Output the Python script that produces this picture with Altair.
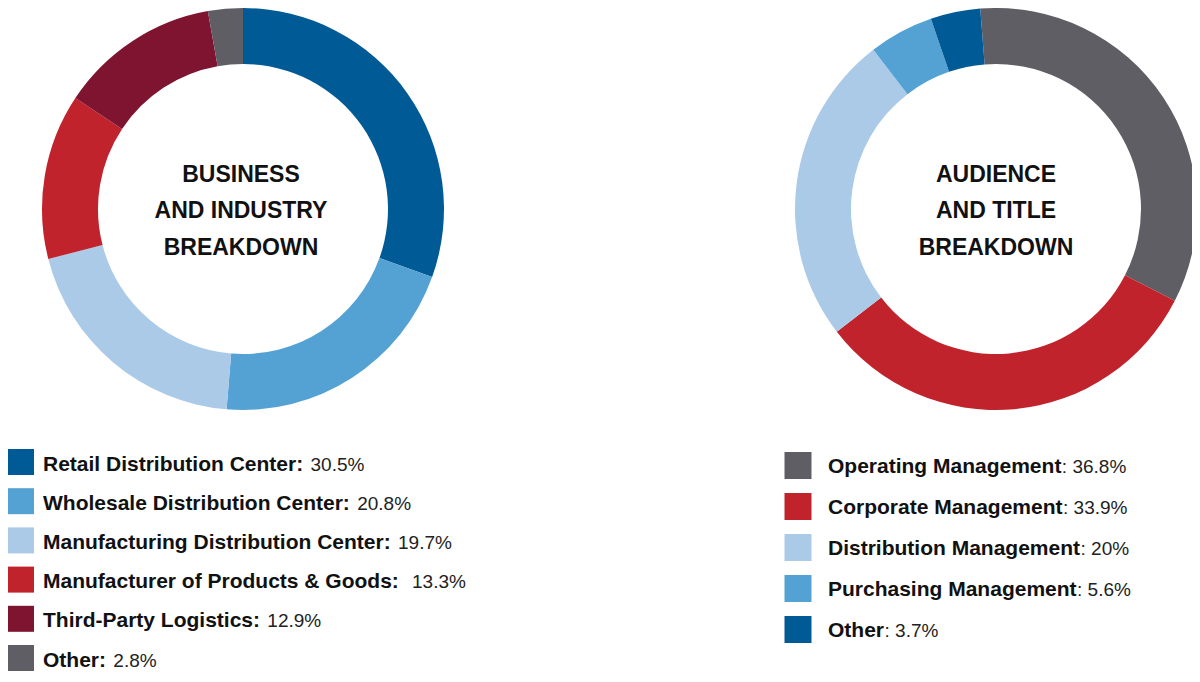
import altair as alt
import pandas as pd

# ---------------- data ----------------
biz_labels = [
    "Retail Distribution Center: ",
    "Wholesale Distribution Center: ",
    "Manufacturing Distribution Center: ",
    "Manufacturer of Products & Goods:  ",
    "Third-Party Logistics: ",
    "Other: ",
]
biz_values = [30.5, 20.8, 19.7, 13.3, 12.9, 2.8]
biz_value_text = ["30.5%", "20.8%", "19.7%", "13.3%", "12.9%", "2.8%"]
biz_colors = ["#005A96", "#54A2D4", "#AACAE7", "#C0232B", "#7E1430", "#5E5E64"]

aud_labels = [
    "Operating Management",
    "Corporate Management",
    "Distribution Management",
    "Purchasing Management",
    "Other",
]
aud_values = [36.8, 33.9, 20, 5.6, 3.7]
aud_value_text = [": 36.8%", ": 33.9%", ": 20%", ": 5.6%", ": 3.7%"]
# ring shares as actually drawn in the reference ring
aud_arc_share = [33.8, 32.0, 25.0, 5.2, 4.0]
aud_colors = ["#5E5E64", "#C0232B", "#AACAE7", "#54A2D4", "#005A96"]

biz_title = ["BUSINESS", "AND INDUSTRY", "BREAKDOWN"]
aud_title = ["AUDIENCE", "AND TITLE", "BREAKDOWN"]

# ---------------- layout helpers ----------------
W, H = 1184, 666
BOLD = "Liberation Sans"
LBL_SIZE = 21
VAL_SIZE = 19

# Liberation Sans Bold advance widths (per 1000 em) for label-width layout
_bw = {
    " ": 278, ":": 333, "-": 333, "&": 722, ".": 278,
    "A": 722, "B": 722, "C": 722, "D": 722, "E": 667, "F": 611, "G": 778,
    "H": 722, "I": 278, "J": 556, "K": 722, "L": 611, "M": 833, "N": 722,
    "O": 778, "P": 667, "Q": 778, "R": 722, "S": 667, "T": 611, "U": 722,
    "V": 667, "W": 944, "X": 667, "Y": 667, "Z": 611,
    "a": 556, "b": 611, "c": 556, "d": 611, "e": 556, "f": 333, "g": 611,
    "h": 611, "i": 278, "j": 278, "k": 556, "l": 278, "m": 889, "n": 611,
    "o": 611, "p": 611, "q": 611, "r": 389, "s": 556, "t": 333, "u": 611,
    "v": 556, "w": 778, "x": 556, "y": 556, "z": 500,
}


def bold_width(s, size):
    return sum(_bw.get(c, 556) for c in s) * size / 1000.0


LEFT_CX, RIGHT_CX, CY = 235, 988, 201
R_OUT, R_IN = 201, 145
START = -0.0785  # right ring begins slightly left of 12 o'clock

L_SQ_X, L_TX_X = 13, 35
R_SQ_X, R_TX_X = 790, 820

biz = pd.DataFrame({
    "i": range(len(biz_labels)),
    "cat": [s.strip() for s in biz_labels],
    "label": biz_labels,
    "val": biz_values,
    "vtext": biz_value_text,
})
biz["vx"] = [L_TX_X + bold_width(s, LBL_SIZE) + 1.5 for s in biz_labels]

aud = pd.DataFrame({
    "i": range(len(aud_labels)),
    "cat": aud_labels,
    "label": aud_labels,
    "val": aud_values,
    "share": aud_arc_share,
    "vtext": aud_value_text,
})
aud["vx"] = [R_TX_X + bold_width(s, LBL_SIZE) + 0.5 for s in aud_labels]

biz_color = alt.Color("cat:N", scale=alt.Scale(domain=biz["cat"].tolist(), range=biz_colors), legend=None)
aud_color = alt.Color("cat:N", scale=alt.Scale(domain=aud_labels, range=aud_colors), legend=None)

# ---------------- donuts ----------------
ring_left = alt.Chart(biz).mark_arc(innerRadius=R_IN, outerRadius=R_OUT).encode(
    theta=alt.Theta("val:Q", stack=True),
    order=alt.Order("i:Q"),
    color=biz_color,
    x=alt.value(LEFT_CX),
    y=alt.value(CY),
)

ring_right = alt.Chart(aud).mark_arc(innerRadius=R_IN, outerRadius=R_OUT).encode(
    theta=alt.Theta("share:Q", stack=True,
                    scale=alt.Scale(range=[START, START + 6.283185307])),
    order=alt.Order("i:Q"),
    color=aud_color,
    x=alt.value(RIGHT_CX),
    y=alt.value(CY),
)

# ---------------- centre titles ----------------
title_y = alt.Y("i:Q", scale=alt.Scale(domain=[0, 2], range=[173.5, 246.5]), axis=None)
t_left = alt.Chart(pd.DataFrame({"i": range(3), "t": biz_title})).mark_text(
    font=BOLD, fontWeight="bold", fontSize=23, align="center", baseline="alphabetic", color="#111111"
).encode(x=alt.value(LEFT_CX - 2), y=title_y, text="t:N")
t_right = alt.Chart(pd.DataFrame({"i": range(3), "t": aud_title})).mark_text(
    font=BOLD, fontWeight="bold", fontSize=23, align="center", baseline="alphabetic", color="#111111"
).encode(x=alt.value(RIGHT_CX), y=title_y, text="t:N")

# ---------------- legends ----------------
ly = alt.Y("i:Q", scale=alt.Scale(domain=[0, 5], range=[454, 650]), axis=None)
ry = alt.Y("i:Q", scale=alt.Scale(domain=[0, 4], range=[457.5, 621.5]), axis=None)

sq_left = alt.Chart(biz).mark_square(size=26 * 26, opacity=1).encode(
    x=alt.value(L_SQ_X), y=ly, color=biz_color)
lab_left = alt.Chart(biz).mark_text(
    font=BOLD, fontWeight="bold", fontSize=LBL_SIZE, align="left", baseline="alphabetic", dy=8.5, color="#111111"
).encode(x=alt.value(L_TX_X), y=ly, text="label:N")
val_left = alt.Chart(biz).mark_text(
    font=BOLD, fontWeight="normal", fontSize=VAL_SIZE, align="left", baseline="alphabetic", dy=8.5, color="#222222"
).encode(x=alt.X("vx:Q", scale=None, axis=None), y=ly, text="vtext:N")

sq_right = alt.Chart(aud).mark_square(size=27 * 27, opacity=1).encode(
    x=alt.value(R_SQ_X), y=ry, color=aud_color)
lab_right = alt.Chart(aud).mark_text(
    font=BOLD, fontWeight="bold", fontSize=LBL_SIZE, align="left", baseline="alphabetic", dy=7.5, color="#111111"
).encode(x=alt.value(R_TX_X), y=ry, text="label:N")
val_right = alt.Chart(aud).mark_text(
    font=BOLD, fontWeight="normal", fontSize=VAL_SIZE, align="left", baseline="alphabetic", dy=7.5, color="#222222"
).encode(x=alt.X("vx:Q", scale=None, axis=None), y=ry, text="vtext:N")

chart = alt.layer(
    ring_left, ring_right, t_left, t_right,
    sq_left, lab_left, val_left, sq_right, lab_right, val_right,
).resolve_scale(
    x="independent", y="independent", theta="independent", color="independent"
).properties(
    width=W, height=H, padding=0,
    autosize=alt.AutoSizeParams(type="none"),
    background="white",
).configure_view(stroke=None)

chart.save("out.html", embed_options={"renderer": "svg", "actions": False})
